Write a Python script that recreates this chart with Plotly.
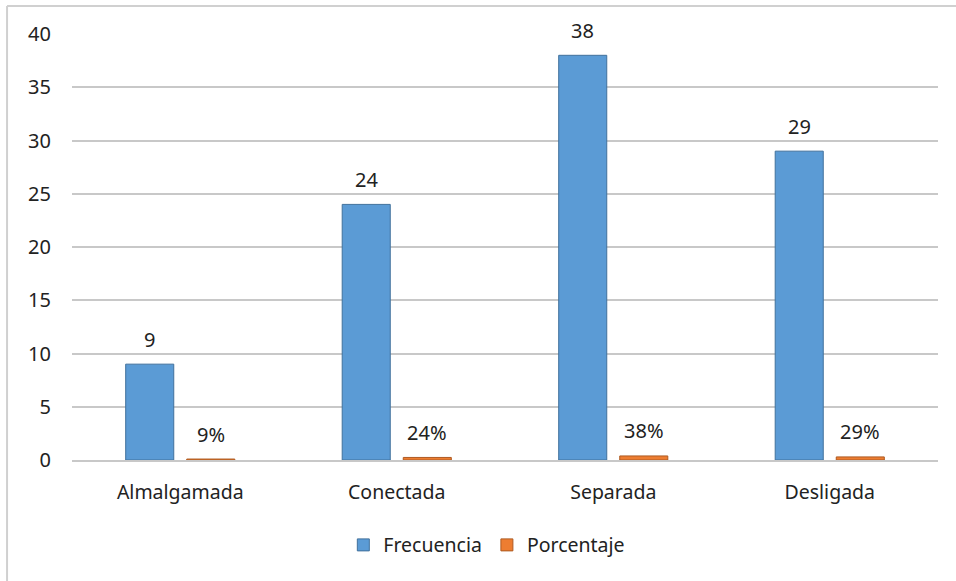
import plotly.graph_objects as go

categories = ["Almalgamada", "Conectada", "Separada", "Desligada"]
frecuencia = [9, 24, 38, 29]
porcentaje = [0.09, 0.24, 0.38, 0.29]
y_ticks = [0, 5, 10, 15, 20, 25, 30, 35, 40]

FONT = "Noto Sans"
fig = go.Figure()
fig.add_trace(go.Bar(
    name="Frecuencia", x=categories, y=frecuencia,
    marker=dict(color="#5B9BD5", line=dict(color="#41719C", width=1)),
))
fig.add_trace(go.Bar(
    name="Porcentaje", x=categories, y=porcentaje,
    marker=dict(color="#ED7D31", line=dict(color="#AE5A21", width=1)),
))

for c, v in zip(categories, frecuencia):
    fig.add_annotation(x=c, y=v, xshift=-30.5, yshift=25, text=str(v),
                       showarrow=False, font=dict(family=FONT, size=20, color="#222"))
for c, v in zip(categories, porcentaje):
    fig.add_annotation(x=c, y=v, xshift=30.5, yshift=25, text=f"{round(v*100)}%",
                       showarrow=False, font=dict(family=FONT, size=20, color="#222"))

fig.update_layout(
    width=956, height=581,
    margin=dict(l=72, r=18, t=34, b=121),
    paper_bgcolor="white", plot_bgcolor="white",
    barmode="group", bargap=0.436, bargroupgap=0.213,
    font=dict(family=FONT, size=19.5, color="#222"),
    showlegend=True,
    legend=dict(orientation="h", x=0.479, xanchor="center", y=-0.2, yanchor="middle",
                font=dict(family=FONT, size=19.5, color="#222"), itemwidth=30),
    xaxis=dict(showgrid=False, showline=True, linecolor="#C8C8C8", linewidth=2,
               ticks="", ticklabelstandoff=14, tickfont=dict(size=19.5)),
    yaxis=dict(range=[0, 40], tickvals=y_ticks, showgrid=True, gridcolor="#C8C8C8",
               gridwidth=2, zeroline=False, showline=False, ticks="",
               ticklabelstandoff=20, tickfont=dict(size=20)),
    shapes=[
        dict(type="line", xref="paper", yref="paper", x0=-0.075, x1=1.03,
             y0=1.0657, y1=1.0657, line=dict(color="#D0D0D0", width=2)),
        dict(type="line", xref="paper", yref="paper", x0=-0.075, x1=-0.075,
             y0=1.0657, y1=-0.3, line=dict(color="#D0D0D0", width=2)),
    ],
)

fig.write_html("out.html")
